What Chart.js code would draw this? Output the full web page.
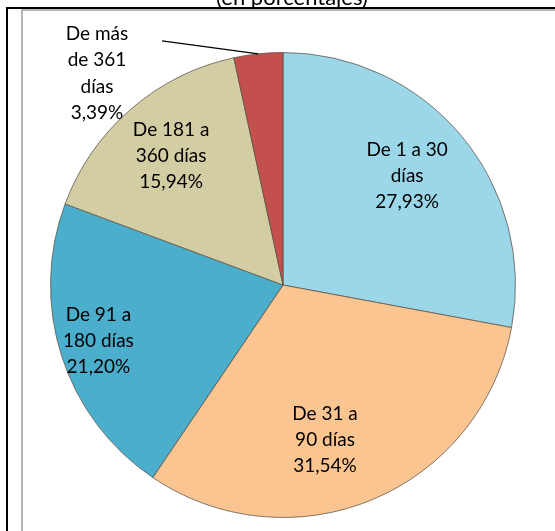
<!DOCTYPE html>
<html><head><meta charset="utf-8">
<script src="https://cdn.jsdelivr.net/npm/chart.js@4/dist/chart.umd.min.js"></script>
<style>
html,body{margin:0;padding:0;background:#fff;overflow:hidden;}
#wrap{position:absolute;left:0;top:0;width:555px;height:531px;}
</style></head>
<body><div id="wrap"><canvas id="c" width="555" height="531"></canvas></div>
<script>
const title = "(en porcentajes)";
const categories = ["De 1 a 30 días", "De 31 a 90 días", "De 91 a 180 días", "De 181 a 360 días", "De más de 361 días"];
const labelLines = [["De 1 a 30", "días"], ["De 31 a", "90 días"], ["De 91 a", "180 días"], ["De 181 a", "360 días"], ["De más", "de 361", "días"]];
const values = [27.93, 31.54, 21.20, 15.94, 3.39];
const colors = ["#9BD7E9", "#FAC590", "#4BAECC", "#D3CDA4", "#C4504E"];

const FONT = "Lato, 'Open Sans', sans-serif";
const fmt = v => v.toFixed(2).replace(".", ",") + "%";

// label placement: [radius fraction, angle offset in degrees]
const labelPlace = [[0.71, -1.5], [0.69, 7.5], [0.83, 0.8], [0.735, 0]];

const framePlugin = {
  id: "frame",
  beforeDraw(chart) {
    const ctx = chart.ctx;
    ctx.save();
    ctx.fillStyle = "#fff";
    ctx.fillRect(0, 0, chart.width, chart.height);
    ctx.fillStyle = "#000";
    ctx.font = "22px " + FONT;
    ctx.textAlign = "center";
    ctx.textBaseline = "alphabetic";
    ctx.fillText(title, 292, 5);
    ctx.strokeStyle = "#a0a0a0";
    ctx.lineWidth = 1.5;
    ctx.beginPath();
    ctx.moveTo(22, chart.height + 2);
    ctx.lineTo(22, 10);
    ctx.lineTo(chart.width + 2, 10);
    ctx.stroke();
    ctx.strokeStyle = "#000";
    ctx.lineWidth = 2;
    ctx.beginPath();
    ctx.moveTo(7, chart.height + 2);
    ctx.lineTo(7, 8);
    ctx.lineTo(chart.width + 2, 8);
    ctx.stroke();
    ctx.restore();
  },
  afterDatasetsDraw(chart) {
    const ctx = chart.ctx;
    const meta = chart.getDatasetMeta(0);
    ctx.save();
    ctx.fillStyle = "#000";
    ctx.font = "19px " + FONT;
    ctx.textAlign = "center";
    ctx.textBaseline = "middle";
    const lh = 26;
    meta.data.forEach((arc, i) => {
      const p = arc.getProps(["x", "y", "startAngle", "endAngle", "outerRadius"], true);
      const lines = labelLines[i].concat([fmt(values[i])]);
      if (i < labelPlace.length) {
        const a = (p.startAngle + p.endAngle) / 2 + labelPlace[i][1] * Math.PI / 180;
        const r = p.outerRadius * labelPlace[i][0];
        const cx = p.x + Math.cos(a) * r, cy = p.y + Math.sin(a) * r;
        lines.forEach((t, k) => ctx.fillText(t, cx, cy + (k - (lines.length - 1) / 2) * lh));
      } else {
        const a = (p.startAngle + p.endAngle) / 2;
        const ex = p.x + Math.cos(a) * p.outerRadius, ey = p.y + Math.sin(a) * p.outerRadius;
        const R = p.outerRadius;
        const tx = p.x - R * 0.80, ty = p.y - R * 1.08;
        lines.forEach((t, k) => ctx.fillText(t, tx, ty + k * 26.3));
        ctx.strokeStyle = "#000";
        ctx.lineWidth = 1.3;
        ctx.beginPath();
        ctx.moveTo(p.x - R * 0.52, p.y - R * 1.05);
        ctx.lineTo(ex, ey);
        ctx.stroke();
      }
    });
    ctx.restore();
  }
};

new Chart(document.getElementById("c"), {
  type: "pie",
  data: {
    labels: categories,
    datasets: [{
      data: values,
      backgroundColor: colors,
      borderColor: "rgba(90,80,70,0.75)",
      borderWidth: 1
    }]
  },
  options: {
    responsive: false,
    animation: false,
    layout: { padding: { top: 52, bottom: 13, left: 50, right: 39 } },
    plugins: { legend: { display: false }, tooltip: { enabled: false }, title: { display: false } }
  },
  plugins: [framePlugin]
});
</script></body></html>
